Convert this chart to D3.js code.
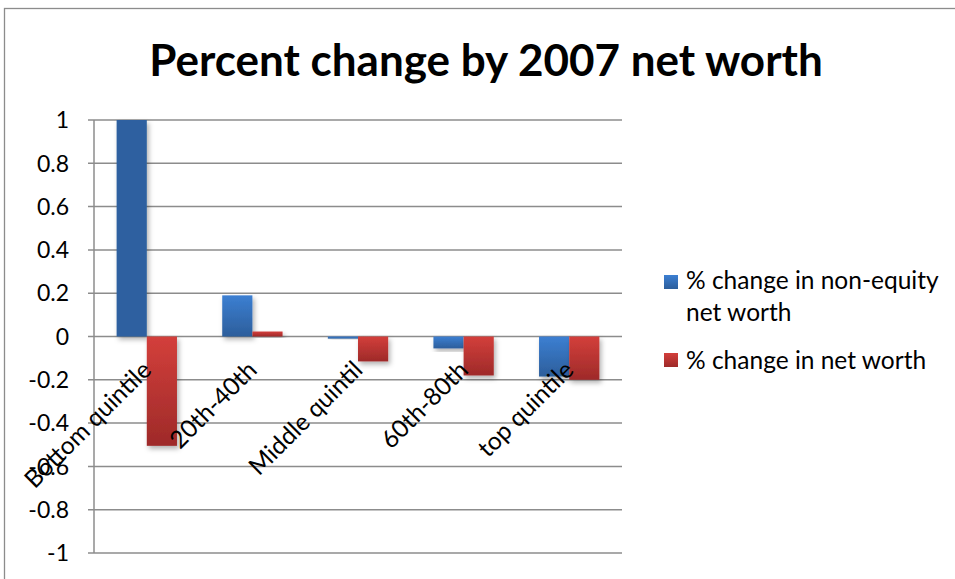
<!DOCTYPE html>
<html>
<head>
<meta charset="utf-8">
<style>
body{ margin:0; background:#fff; }
svg{ display:block; font-family: Lato, "Open Sans", sans-serif; }
.grid line{ stroke:#8c8c8c; stroke-width:1.5; }
.tick-label{ font-size:23px; fill:#000; }
.cat-label{ font-size:24.5px; fill:#000; }
.legend text{ font-size:24.5px; fill:#000; }
</style>
<script src="https://d3js.org/d3.v7.min.js"></script>
</head>
<body>
<script>
var w = 955, h = 579;

// chart data
var categories = ["Bottom quintile", "20th-40th", "Middle quintil", "60th-80th", "top quintile"];
var nonEquity = [1.0, 0.19, -0.01, -0.055, -0.185];
var netWorth = [-0.505, 0.023, -0.115, -0.18, -0.2];
var seriesNames = ["% change in non-equity net worth", "% change in net worth"];
var yTicks = [1, 0.8, 0.6, 0.4, 0.2, 0, -0.2, -0.4, -0.6, -0.8, -1];

var plot = {left: 94, right: 622, top: 120, bottom: 553};

var svg = d3.select("body").append("svg")
    .attr("width", w)
    .attr("height", h);

// gradients + shadow
var defs = svg.append("defs");
function grad(id, c1, c2){
    var g = defs.append("linearGradient").attr("id", id)
        .attr("x1", 0).attr("y1", 0).attr("x2", 0).attr("y2", 1);
    g.append("stop").attr("offset", "0%").attr("stop-color", c1);
    g.append("stop").attr("offset", "100%").attr("stop-color", c2);
}
grad("blueGrad", "#3c7fd2", "#2c5e9b");
grad("redGrad", "#d33f3b", "#9e2a29");
var f = defs.append("filter").attr("id", "shadow")
    .attr("x", "-20%").attr("y", "-20%").attr("width", "150%").attr("height", "150%");
f.append("feDropShadow").attr("dx", 2).attr("dy", 3).attr("stdDeviation", 2.5)
    .attr("flood-color", "#000").attr("flood-opacity", 0.3);

// outer border
svg.append("rect")
    .attr("x", 4.5).attr("y", 8.5)
    .attr("width", w + 20).attr("height", h + 20)
    .attr("fill", "none").attr("stroke", "#8c8c8c").attr("stroke-width", 1.3);

// title
svg.append("text")
    .attr("x", 486).attr("y", 76)
    .attr("text-anchor", "middle")
    .style("font-size", "44px").style("font-weight", "bold")
    .text("Percent change by 2007 net worth");

var xScale = d3.scaleBand()
    .domain(categories)
    .range([plot.left, plot.right]);

var yScale = d3.scaleLinear()
    .domain([-1, 1])
    .range([plot.bottom, plot.top]);

// bar group layout within a category: gap width 150%
var barW = xScale.bandwidth() / 3.5;
var x1 = d3.scaleBand().domain([0, 1])
    .range([xScale.bandwidth() / 2 - barW, xScale.bandwidth() / 2 + barW]);

// gridlines
svg.append("g").attr("class", "grid")
    .selectAll("line").data(yTicks).enter()
    .append("line")
    .attr("x1", plot.left - 6).attr("x2", plot.right)
    .attr("y1", function(d){ return yScale(d); })
    .attr("y2", function(d){ return yScale(d); });

// y axis line
svg.append("line")
    .attr("x1", plot.left).attr("x2", plot.left)
    .attr("y1", plot.top).attr("y2", plot.bottom)
    .attr("stroke", "#8c8c8c").attr("stroke-width", 1.5);

// y tick labels
svg.append("g").selectAll("text").data(yTicks).enter()
    .append("text")
    .attr("class", "tick-label")
    .attr("x", 69)
    .attr("y", function(d){ return yScale(d); })
    .attr("dy", "0.36em")
    .attr("text-anchor", "end")
    .text(function(d){ return d3.format("")(d).replace("−", "-"); });

// bars
var series = [nonEquity, netWorth];
var fills = ["url(#blueGrad)", "url(#redGrad)"];
series.forEach(function(vals, si){
    svg.append("g")
        .selectAll("rect").data(vals).enter()
        .append("rect")
        .attr("x", function(d, i){ return xScale(categories[i]) + x1(si); })
        .attr("width", x1.bandwidth())
        .attr("y", function(d){ return yScale(Math.max(0, d)); })
        .attr("height", function(d){ return Math.abs(yScale(d) - yScale(0)); })
        .attr("fill", function(d, i){ return (si === 0 && i === 0) ? "#2d61a0" : fills[si]; })
        .attr("filter", "url(#shadow)");
});

// category labels, rotated
svg.append("g").selectAll("text").data(categories).enter()
    .append("text")
    .attr("class", "cat-label")
    .attr("text-anchor", "end")
    .attr("transform", function(d){
        var cx = xScale(d) + xScale.bandwidth() / 2 + 6;
        return "translate(" + cx + "," + (yScale(0) + 35) + ") rotate(-45)";
    })
    .text(function(d){ return d; });

// legend
var legend = svg.append("g").attr("class", "legend");
var legColors = ["url(#blueGrad)", "url(#redGrad)"];
legend.append("rect").attr("x", 664).attr("y", 275).attr("width", 14).attr("height", 14)
    .attr("fill", legColors[0]);
legend.append("text").attr("x", 686).attr("y", 289).text("% change in non-equity");
legend.append("text").attr("x", 686).attr("y", 321).text("net worth");
legend.append("rect").attr("x", 664).attr("y", 353).attr("width", 14).attr("height", 14)
    .attr("fill", legColors[1]);
legend.append("text").attr("x", 686).attr("y", 369).text(seriesNames[1]);
</script>
</body>
</html>
